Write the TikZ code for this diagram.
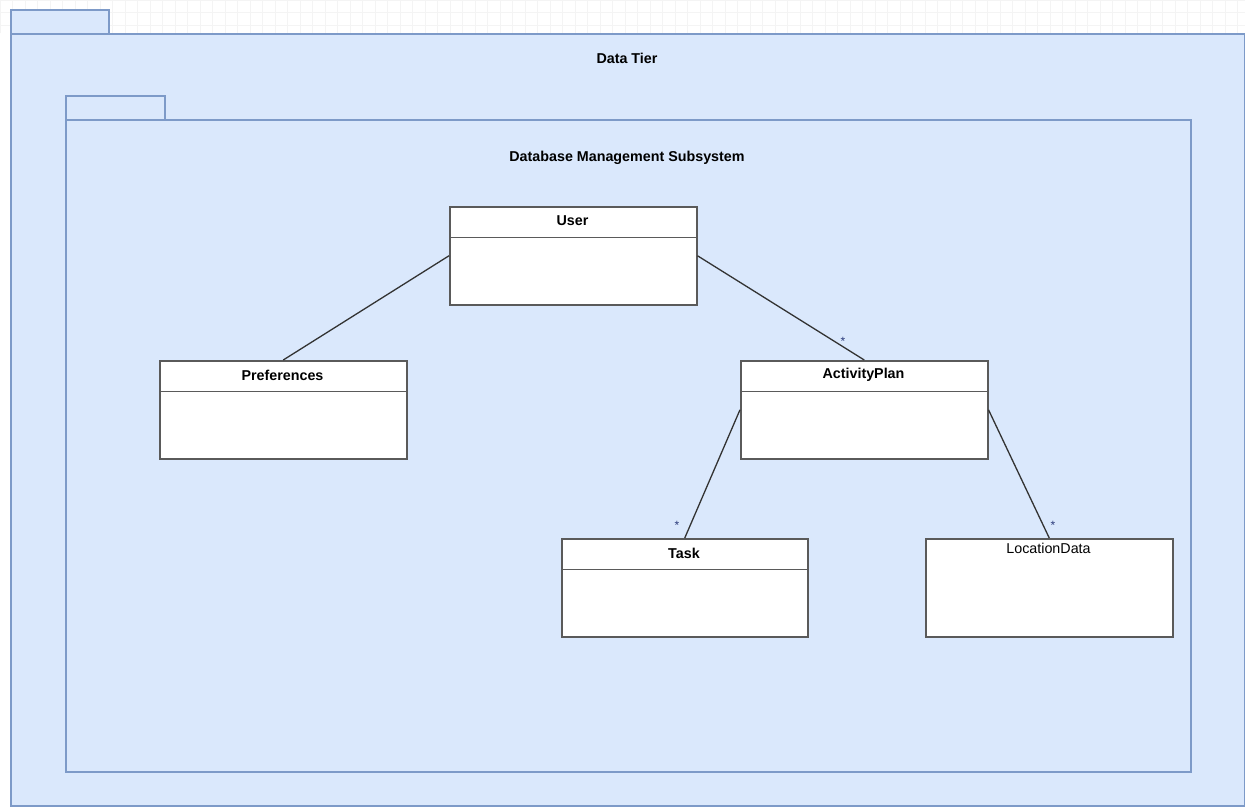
\documentclass[tikz,border=0pt]{standalone}
\usepackage{fontspec}
\setmainfont{Liberation Sans}
\begin{document}
\begin{tikzpicture}[x=1pt,y=-1pt,
  pkgline/.style={draw=pkgblue,line width=1.8pt,fill=pkgfill},
  pkgbody/.style={pkgline,rectangle,anchor=north west,inner sep=0pt},
  title/.style={font=\fontsize{14.3}{16}\selectfont\bfseries,text=black},
  plaintitle/.style={font=\fontsize{14.3}{16}\selectfont,text=black},
  cls/.style={draw=clsgray,fill=white,line width=1.5pt,rectangle,anchor=north west,inner sep=0pt,minimum width=247pt,minimum height=98pt},
  assoc/.style={draw=linegray,line width=1.3pt},
  mult/.style={font=\fontsize{12}{12}\selectfont,text=multblue,inner sep=0pt}]
\definecolor{pkgblue}{HTML}{7D9AC8}
\definecolor{pkgfill}{HTML}{DAE8FC}
\definecolor{clsgray}{HTML}{5A5A5A}
\definecolor{linegray}{HTML}{333333}
\definecolor{multblue}{HTML}{2A3A7A}
\definecolor{gridgray}{HTML}{F4F4F4}
\useasboundingbox (0,0) rectangle (1245,807);
\fill[white] (0,0) rectangle (1245,807);
% faint canvas grid showing above the outer package
\draw[gridgray,line width=0.6pt,step=12.5pt] (0,0) grid (1245,33);

% outer package: Data Tier
\node[pkgbody,minimum width=98pt,minimum height=24pt] (outertab) at (10,9) {};
\node[pkgbody,minimum width=1234pt,minimum height=772pt] (outer) at (10,33) {};
\node[title] (outerlbl) at (627,58) {Data Tier};

% inner package: Database Management Subsystem
\node[pkgbody,minimum width=99pt,minimum height=24pt] (innertab) at (65,95) {};
\node[pkgbody,minimum width=1125pt,minimum height=652pt] (inner) at (65,119) {};
\node[title] (innerlbl) at (627,158) {Database Management Subsystem};

% classes
\node[cls] (user) at (449,206) {};
\draw[clsgray,line width=0.9pt] (449,237) -- (696,237);
\node[title] (userlbl) at (572.5,221) {User};

\node[cls] (pref) at (159,360) {};
\draw[clsgray,line width=0.9pt] (159,391) -- (406,391);
\node[title] (preflbl) at (282.5,375) {Preferences};

\node[cls] (plan) at (740,360) {};
\draw[clsgray,line width=0.9pt] (740,391) -- (987,391);
\node[title] (planlbl) at (863.5,375) {ActivityPlan};

\node[cls,minimum width=246pt] (task) at (561,538) {};
\draw[clsgray,line width=0.9pt] (561,569) -- (807,569);
\node[title] (tasklbl) at (684,553) {Task};

\node[cls] (loc) at (925,538) {};
\node[plaintitle] (loclbl) at (1048.5,548) {LocationData};

% associations
\draw[assoc] (user.west) -- (pref.north);
\draw[assoc] (user.east) -- (plan.north);
\draw[assoc] (plan.west) -- (task.north);
\draw[assoc] (plan.east) -- (loc.north);

% multiplicities
\node[mult] (m1) at (843,341) {*};
\node[mult] (m2) at (677,525) {*};
\node[mult] (m3) at (1053,525) {*};
\end{tikzpicture}
\end{document}
